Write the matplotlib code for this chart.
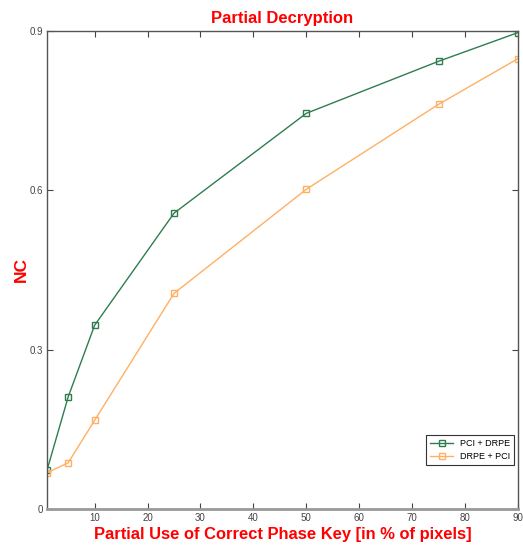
import numpy as np
import matplotlib.pyplot as plt

plt.rcParams['font.family'] = ['Liberation Sans', 'DejaVu Sans']

# percentage of correct phase key pixels used
pct = [1, 5, 10, 25, 50, 75, 90]
nc_pci_drpe = [0.073, 0.211, 0.346, 0.557, 0.745, 0.843, 0.897]
nc_drpe_pci = [0.068, 0.087, 0.167, 0.406, 0.602, 0.762, 0.848]

xticks = [10, 20, 30, 40, 50, 60, 70, 80, 90]
yticks = [0, 0.3, 0.6, 0.9]
ytick_labels = ['0', '0.3', '0.6', '0.9']

fig = plt.figure(figsize=(5.23, 5.49), dpi=100)
ax = fig.add_axes([47/523, 1 - 509/549, (518-47)/523, (509-31)/549])

ax.plot(pct, nc_pci_drpe, color='#2e7d50', marker='s', markersize=5,
        markerfacecolor='none', markeredgewidth=1.0, linewidth=1.0, label='PCI + DRPE')
ax.plot(pct, nc_drpe_pci, color='#ffb062', marker='s', markersize=5,
        markerfacecolor='none', markeredgewidth=1.0, linewidth=1.0, label='DRPE + PCI')

ax.set_xlim(1, 90)
ax.set_ylim(0, 0.9)
ax.set_xticks(xticks)
ax.set_yticks(yticks)
ax.set_yticklabels(ytick_labels)
ax.tick_params(direction='in', length=4, labelsize=7, labelcolor='#444444',
               color='#444444', top=True, right=True, pad=3)
for s in ax.spines.values():
    s.set_color('#555555')
    s.set_linewidth(1.0)
ax.spines['bottom'].set_color('#999999')
ax.spines['bottom'].set_linewidth(2.0)

ax.set_title('Partial Decryption', color='red', fontweight='bold', fontsize=12, pad=6)
ax.set_xlabel('Partial Use of Correct Phase Key [in % of pixels]', color='red',
              fontweight='bold', fontsize=11.9, labelpad=3)
ax.set_ylabel('NC', color='red', fontweight='bold', fontsize=12.5, labelpad=0)

leg = ax.legend(loc='lower right', bbox_to_anchor=(0.992, 0.092), borderaxespad=0,
                fontsize=6.5, fancybox=False, framealpha=1, edgecolor='#333333',
                handlelength=2.6, borderpad=0.4, labelspacing=0.5)
leg.get_frame().set_linewidth(0.8)

fig.savefig('out.png', dpi=100)
